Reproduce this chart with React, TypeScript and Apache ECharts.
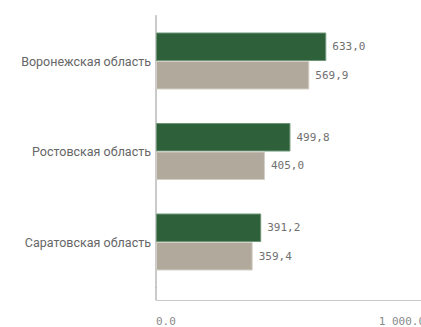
import React, { useEffect, useRef } from "react";
import * as echarts from "echarts";

const categories = ["Воронежская область", "Ростовская область", "Саратовская область"];
const seriesA = [633.0, 499.8, 391.2];
const seriesB = [569.9, 405.0, 359.4];
const xTicks = [0, 1000];

const fmtComma = (v: number) => v.toFixed(1).replace(".", ",");
const fmtAxis = (v: number) => {
  const s = v.toFixed(1);
  const [i, d] = s.split(".");
  return i.replace(/\B(?=(\d{3})+(?!\d))/g, " ") + "." + d;
};

export default function App() {
  const ref = useRef<HTMLDivElement>(null);
  useEffect(() => {
    if (!ref.current) return;
    const chart = echarts.init(ref.current, null, { renderer: "svg" });
    chart.setOption({
      animation: false,
      backgroundColor: "#ffffff",
      grid: { left: 156, top: 15.75, width: 269, height: 271.5 },
      xAxis: {
        type: "value",
        min: xTicks[0],
        max: xTicks[xTicks.length - 1],
        interval: 1000,
        offset: 12.75,
        splitLine: { show: false },
        axisTick: { show: false },
        axisLine: { show: true, lineStyle: { color: "#c8c8c8", width: 1 } },
        axisLabel: {
          formatter: (v: number) => fmtAxis(v),
          fontFamily: "DejaVu Sans Mono",
          fontSize: 11,
          color: "#8a8a8a",
          margin: 16,
          alignMinLabel: "left",
          alignMaxLabel: "right",
        },
      },
      yAxis: {
        type: "category",
        data: categories,
        inverse: true,
        axisTick: { show: false },
        axisLine: { show: true, lineStyle: { color: "#b8b8b8", width: 1.5 } },
        axisLabel: {
          fontFamily: "Roboto",
          fontSize: 12.5,
          color: "#666666",
          margin: 5,
        },
      },
      graphic: [
        {
          type: "line",
          shape: { x1: 156, y1: 287, x2: 156, y2: 300 },
          style: { stroke: "#b8b8b8", lineWidth: 1.5 },
          silent: true,
        },
      ],
      series: [
        {
          type: "bar",
          data: seriesA,
          barWidth: 28.5,
          barGap: "0%",
          itemStyle: { color: "#2e6139", borderColor: "#6f9678", borderWidth: 1 },
          label: {
            show: true,
            position: "right",
            distance: 6,
            formatter: (p: any) => fmtComma(p.value),
            fontFamily: "DejaVu Sans Mono",
            fontSize: 11,
            color: "#707070",
          },
        },
        {
          type: "bar",
          data: seriesB,
          barWidth: 28.5,
          barGap: "0%",
          itemStyle: { color: "#b1a99c", borderColor: "#d4cfc6", borderWidth: 1 },
          label: {
            show: true,
            position: "right",
            distance: 6,
            formatter: (p: any) => fmtComma(p.value),
            fontFamily: "DejaVu Sans Mono",
            fontSize: 11,
            color: "#707070",
          },
        },
      ],
    });
    return () => chart.dispose();
  }, []);
  return (
    <div style={{ position: "fixed", left: 0, top: 0, width: 421, height: 327, overflow: "hidden", background: "#fff" }}>
      <div ref={ref} style={{ position: "absolute", left: 0, top: 0, width: 480, height: 327 }} />
    </div>
  );
}
